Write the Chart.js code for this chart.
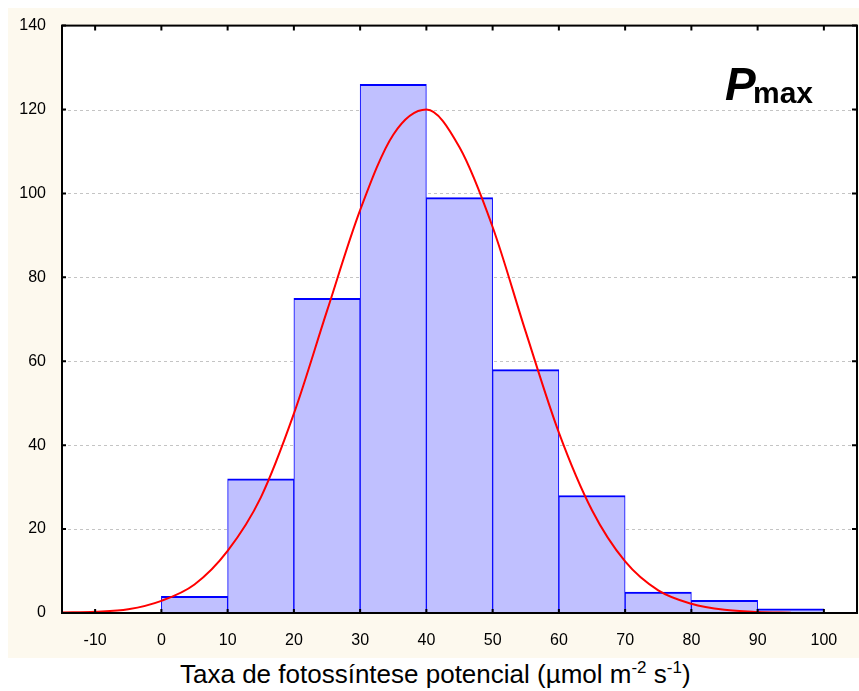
<!DOCTYPE html>
<html>
<head>
<meta charset="utf-8">
<script src="https://cdn.jsdelivr.net/npm/chart.js@4"></script>
<style>
body { margin:0; background:#fff; width:859px; height:691px; position:relative; overflow:hidden; font-family:"Liberation Sans", Arial, sans-serif; }
#cadre { position:absolute; left:8px; top:8px; width:851px; height:650px; background:#FDF9EE; }
#titreX { position:absolute; left:180px; top:661px; font-size:26px; line-height:26px; white-space:nowrap; color:#000; }
#titreX sup { font-size:17px; line-height:0; vertical-align:baseline; position:relative; top:-10px; }
</style>
</head>
<body>
<div id="cadre"><canvas id="histo" width="851" height="650"></canvas></div>
<div id="titreX">Taxa de fotossíntese potencial (µmol m<sup>-2</sup> s<sup>-1</sup>)</div>
<script>
// centres des classes (largeur 10) et effectifs
const classes = [5, 15, 25, 35, 45, 55, 65, 75, 85, 95];
const effectifs = [4, 32, 75, 126, 99, 58, 28, 5, 3, 1];

// courbe normale ajustée
const courbeX = [-15, -10, -5, 0, 5, 10, 15, 20, 25, 30, 35, 40, 45, 50, 55, 60, 65, 70, 75, 80, 85, 90, 95];
const courbeY = [0.1, 0.3, 0.9, 2.9, 6.8, 14.8, 27.5, 47.5, 72, 96, 114, 120, 111, 92, 67, 43, 24.5, 12.3, 5.4, 2.2, 0.75, 0.25, 0.07];

const ticksX = [-10, 0, 10, 20, 30, 40, 50, 60, 70, 80, 90, 100];
const ticksY = [0, 20, 40, 60, 80, 100, 120, 140];

const police = '"Liberation Sans", Arial, sans-serif';

// fond blanc, grille pointillée, cadre et graduations
const decor = {
    id: 'decor',
    beforeDatasetsDraw(chart) {
        const { ctx, chartArea: a, scales: { y } } = chart;
        ctx.save();
        ctx.fillStyle = '#fff';
        ctx.fillRect(a.left, a.top, a.right - a.left, a.bottom - a.top);
        ctx.strokeStyle = '#C4C4C4';
        ctx.lineWidth = 1;
        ctx.setLineDash([3, 3]);
        ticksY.forEach(v => {
            if (v === 0 || v === 140) return;
            const py = Math.round(y.getPixelForValue(v)) + 0.5;
            ctx.beginPath();
            ctx.moveTo(a.left, py);
            ctx.lineTo(a.right, py);
            ctx.stroke();
        });
        ctx.restore();
    },
    afterDatasetsDraw(chart) {
        const { ctx, chartArea: a, scales: { x, y } } = chart;
        ctx.save();
        ctx.strokeStyle = '#000';
        ctx.lineWidth = 2;
        ctx.strokeRect(a.left, a.top, a.right - a.left, a.bottom - a.top);
        ctx.beginPath();
        ticksX.forEach(v => {
            const px = x.getPixelForValue(v);
            ctx.moveTo(px, a.top);
            ctx.lineTo(px, a.top + 5);
            ctx.moveTo(px, a.bottom);
            ctx.lineTo(px, a.bottom - 4);
        });
        ticksY.forEach(v => {
            const py = y.getPixelForValue(v);
            ctx.moveTo(a.left, py);
            ctx.lineTo(a.left + 4, py);
            ctx.moveTo(a.right, py);
            ctx.lineTo(a.right - 5, py);
        });
        ctx.stroke();

        // étiquette P max
        ctx.fillStyle = '#000';
        ctx.textBaseline = 'alphabetic';
        ctx.font = 'italic bold 46px ' + police;
        ctx.fillText('P', a.right - 132, a.top + 74);
        ctx.font = 'bold 30px ' + police;
        ctx.fillText('max', a.right - 104, a.top + 77);
        ctx.restore();
    }
};

new Chart(document.getElementById('histo'), {
    type: 'bar',
    data: {
        datasets: [
            {
                type: 'line',
                data: courbeX.map((x, i) => ({ x: x, y: courbeY[i] })),
                borderColor: '#FF0000',
                borderWidth: 2,
                pointRadius: 0,
                cubicInterpolationMode: 'monotone',
                fill: false,
                order: 0
            },
            {
                type: 'bar',
                data: classes.map((x, i) => ({ x: x, y: effectifs[i] })),
                backgroundColor: '#C0C0FF',
                borderColor: '#0000FF',
                borderWidth: { top: 2, left: 1, right: 1, bottom: 0 },
                borderSkipped: false,
                barPercentage: 1,
                categoryPercentage: 1,
                order: 1
            }
        ]
    },
    options: {
        responsive: false,
        animation: false,
        layout: { padding: { top: 16, right: 2, left: 0, bottom: 0 } },
        plugins: { legend: { display: false }, tooltip: { enabled: false } },
        scales: {
            x: {
                type: 'linear',
                min: -15,
                max: 105,
                offset: false,
                grid: { display: false },
                border: { display: false },
                afterBuildTicks: s => { s.ticks = ticksX.map(v => ({ value: v })); },
                afterFit: s => { s.height = 45; },
                ticks: { color: '#000', font: { size: 16, family: police }, padding: 10, maxRotation: 0, autoSkip: false }
            },
            y: {
                min: 0,
                max: 140,
                grid: { display: false },
                border: { display: false },
                afterBuildTicks: s => { s.ticks = ticksY.map(v => ({ value: v })); },
                afterFit: s => { s.width = 54; },
                ticks: { color: '#000', font: { size: 16, family: police }, padding: 8 }
            }
        }
    },
    plugins: [decor]
});
</script>
</body>
</html>
